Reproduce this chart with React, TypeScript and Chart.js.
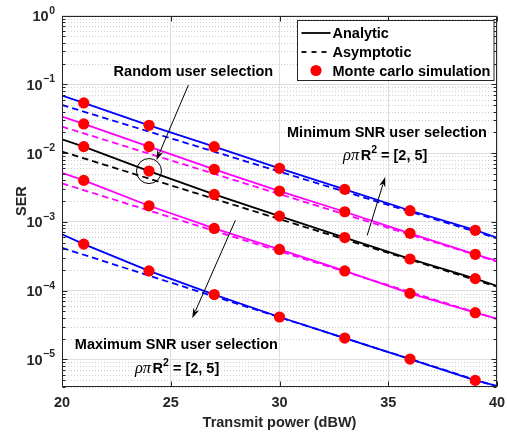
import React, { useEffect, useRef } from "react";
import { Chart, registerables } from "chart.js";

Chart.register(...registerables);

// ---------- data ----------
const analyticPower = [20, 21, 24, 27, 30, 33, 36, 39, 40];
const simPower = [21, 24, 27, 30, 33, 36, 39];
const asymPower = [20, 40];

// Minimum SNR user selection (upper pair)
const minBlueAnalytic = [0.0684, 0.0535, 0.0253, 0.0124, 0.006, 0.00296, 0.00146, 7.55e-4, 5.87e-4];
const minBlueSim = [0.0535, 0.0253, 0.01236, 0.006, 0.00296, 0.00145, 7.52e-4];
const minBlueAsym = [0.05, 5.75e-4];

const minMagentaAnalytic = [0.0338, 0.0265, 0.0124, 0.0058, 0.0028, 0.0014, 6.8e-4, 3.37e-4, 2.69e-4];
const minMagentaSim = [0.0265, 0.0124, 0.0058, 0.0028, 0.0014, 6.8e-4, 3.37e-4];
const minMagentaAsym = [0.0242, 2.64e-4];

// Random user selection
const randomAnalytic = [0.0158, 0.0124, 0.00547, 0.0025, 0.00121, 5.9e-4, 2.88e-4, 1.49e-4, 1.17e-4];
const randomSim = [0.0124, 0.00547, 0.0025, 0.00121, 5.9e-4, 2.88e-4, 1.49e-4];
const randomAsym = [0.0105, 1.14e-4];

// Maximum SNR user selection (lower pair)
const maxMagentaAnalytic = [0.00517, 0.004, 0.00171, 8.0e-4, 3.96e-4, 1.93e-4, 9.1e-5, 4.77e-5, 3.9e-5];
const maxMagentaSim = [0.004, 0.00171, 8.0e-4, 3.96e-4, 1.93e-4, 9.1e-5, 4.77e-5];
const maxMagentaAsym = [0.00362, 3.85e-5];

const maxBlueAnalytic = [6.6e-4, 4.73e-4, 1.93e-4, 8.75e-5, 4.13e-5, 2.04e-5, 1.01e-5, 4.94e-6, 4.1e-6];
const maxBlueSim = [4.73e-4, 1.93e-4, 8.75e-5, 4.13e-5, 2.04e-5, 1.01e-5, 4.94e-6];
const maxBlueAsym = [4.18e-4, 4.0e-6];

const xTickValues = [20, 25, 30, 35, 40];
const yTickExponents = [0, -1, -2, -3, -4, -5];

const legendLabels = ["Analytic", "Asymptotic", "Monte carlo simulation"];
const randomLabel = "Random user selection";
const minLabel = "Minimum SNR user selection";
const maxLabel = "Maximum SNR user selection";
const xTitle = "Transmit power (dBW)";
const yTitle = "SER";

// annotation anchors in data coordinates [power, SER]
const randomTextAt = [26.04, 0.157];
const randomArrow = [[25.81, 0.0972], [24.34, 0.00785]];
const circleAt = [24, 0.00547];
const minTextAt = [34.94, 0.0203];
const minRhoAt = [34.86, 0.00929];
const minArrow = [[34.03, 6.34e-4], [34.86, 0.00449]];
const maxTextAt = [25.26, 1.68e-5];
const maxRhoAt = [25.29, 7.57e-6];
const maxArrow = [[27.97, 1.05e-3], [25.99, 3.96e-5]];

// ---------- styles ----------
const SANS = '"Liberation Sans", Arial, Helvetica, sans-serif';
const SERIF = '"Liberation Serif", "Times New Roman", serif';
const FS = 14.5;
const AXIS = "#262626";
const BLUE = "#0000ff";
const MAGENTA = "#ff00ff";
const BLACK = "#000000";
const RED = "#ff0000";
const LW = 1.8;

const pts = (xs: number[], ys: number[]) => xs.map((x, i) => ({ x, y: ys[i] }));

function solid(color: string, ys: number[]) {
  return {
    data: pts(analyticPower, ys),
    borderColor: color,
    backgroundColor: color,
    borderWidth: LW,
    pointRadius: 0,
    tension: 0,
    order: 3,
  };
}
function dashed(color: string, ys: number[]) {
  return {
    data: pts(asymPower, ys),
    borderColor: color,
    backgroundColor: color,
    borderWidth: LW,
    borderDash: [6.5, 4],
    pointRadius: 0,
    tension: 0,
    order: 2,
  };
}
function dots(ys: number[]) {
  return {
    data: pts(simPower, ys),
    showLine: false,
    borderColor: RED,
    backgroundColor: RED,
    borderWidth: 0,
    pointRadius: 5.6,
    pointHoverRadius: 5.6,
    order: 1,
  };
}

function drawArrow(ctx: CanvasRenderingContext2D, x0: number, y0: number, x1: number, y1: number) {
  const ang = Math.atan2(y1 - y0, x1 - x0);
  const len = 10;
  const hw = 3.2;
  const bx = x1 - len * Math.cos(ang);
  const by = y1 - len * Math.sin(ang);
  ctx.beginPath();
  ctx.moveTo(x0, y0);
  ctx.lineTo(bx + 2 * Math.cos(ang), by + 2 * Math.sin(ang));
  ctx.stroke();
  const nx = -Math.sin(ang);
  const ny = Math.cos(ang);
  ctx.beginPath();
  ctx.moveTo(x1, y1);
  ctx.lineTo(bx + nx * hw, by + ny * hw);
  ctx.lineTo(bx + 3 * Math.cos(ang), by + 3 * Math.sin(ang));
  ctx.lineTo(bx - nx * hw, by - ny * hw);
  ctx.closePath();
  ctx.fill();
}

function drawRho(ctx: CanvasRenderingContext2D, cx: number, baseline: number) {
  const parts = [
    { t: "ρπ", f: `italic 16.5px ${SERIF}`, dy: 0 },
    { t: "R", f: `bold ${FS}px ${SANS}`, dy: 0 },
    { t: "2", f: `bold 10.5px ${SANS}`, dy: -7 },
    { t: " = [2, 5]", f: `bold ${FS}px ${SANS}`, dy: 0 },
  ];
  let total = 0;
  const widths = parts.map((p) => {
    ctx.font = p.f;
    const w = ctx.measureText(p.t).width + (p.t === "ρπ" ? 1.5 : 0);
    total += w;
    return w;
  });
  let x = cx - total / 2;
  ctx.textAlign = "left";
  ctx.textBaseline = "alphabetic";
  parts.forEach((p, i) => {
    ctx.font = p.f;
    ctx.fillText(p.t, x, baseline + p.dy);
    x += widths[i];
  });
}

const decorPlugin = {
  id: "decor",
  beforeDatasetsDraw(chart: any) {
    const { ctx, chartArea: a, scales } = chart;
    const y = scales.y;
    ctx.save();
    ctx.strokeStyle = "#cfcfcf";
    ctx.lineWidth = 1;
    ctx.setLineDash([1, 2]);
    for (let e = -6; e < 0; e++) {
      for (let m = 2; m <= 9; m++) {
        const v = m * Math.pow(10, e);
        if (v < y.min || v > y.max) continue;
        const py = Math.round(y.getPixelForValue(v)) + 0.5;
        ctx.beginPath();
        ctx.moveTo(a.left, py);
        ctx.lineTo(a.right, py);
        ctx.stroke();
      }
    }
    ctx.restore();
  },
  afterDatasetsDraw(chart: any) {
    const { ctx, scales } = chart;
    const x = scales.x;
    const y = scales.y;
    const P = (p: number[]) => [x.getPixelForValue(p[0]), y.getPixelForValue(p[1])];
    ctx.save();
    ctx.fillStyle = BLACK;
    ctx.strokeStyle = BLACK;
    ctx.lineWidth = 1;
    ctx.setLineDash([]);

    // circle around the random-selection point
    const c = P(circleAt);
    ctx.beginPath();
    ctx.arc(c[0], c[1], 12.5, 0, Math.PI * 2);
    ctx.stroke();

    // arrows
    for (const ar of [randomArrow, minArrow, maxArrow]) {
      const s = P(ar[0]);
      const e = P(ar[1]);
      drawArrow(ctx, s[0], s[1], e[0], e[1]);
    }

    // labels
    ctx.font = `bold ${FS}px ${SANS}`;
    ctx.textAlign = "center";
    ctx.textBaseline = "alphabetic";
    const r = P(randomTextAt);
    ctx.fillText(randomLabel, r[0], r[1] + 5);
    const mn = P(minTextAt);
    ctx.fillText(minLabel, mn[0], mn[1] + 5);
    const mx = P(maxTextAt);
    ctx.fillText(maxLabel, mx[0], mx[1] + 5);
    const mr = P(minRhoAt);
    drawRho(ctx, mr[0], mr[1] + 5);
    const xr = P(maxRhoAt);
    drawRho(ctx, xr[0], xr[1] + 5);
    ctx.restore();
  },
  afterDraw(chart: any) {
    const { ctx, chartArea: a, scales } = chart;
    const x = scales.x;
    const y = scales.y;
    ctx.save();
    ctx.setLineDash([]);
    ctx.strokeStyle = AXIS;
    ctx.fillStyle = AXIS;
    ctx.lineWidth = 1;
    const L = Math.round(a.left) + 0.5;
    const R = Math.round(a.right) - 0.5;
    const T = Math.round(a.top) + 0.5;
    const B = Math.round(a.bottom) - 0.5;

    // box
    ctx.beginPath();
    ctx.rect(L, T, R - L, B - T);
    ctx.stroke();

    // y ticks (major + minor) on both sides
    ctx.beginPath();
    for (let e = -6; e <= 0; e++) {
      for (let m = 1; m <= 9; m++) {
        const v = m * Math.pow(10, e);
        if (v < y.min || v > y.max) continue;
        const len = m === 1 ? 5 : 3;
        const py = Math.round(y.getPixelForValue(v)) + 0.5;
        ctx.moveTo(L, py);
        ctx.lineTo(L + len, py);
        ctx.moveTo(R, py);
        ctx.lineTo(R - len, py);
      }
    }
    // x ticks bottom and top
    for (const v of xTickValues) {
      const px = Math.round(x.getPixelForValue(v)) + 0.5;
      ctx.moveTo(px, B);
      ctx.lineTo(px, B - 5);
      ctx.moveTo(px, T);
      ctx.lineTo(px, T + 5);
    }
    ctx.stroke();

    // y tick labels: 10^e
    const right = a.left - 7;
    for (const e of yTickExponents) {
      const py = y.getPixelForValue(Math.pow(10, e));
      const ex = e < 0 ? "\u2212" + String(-e) : String(e);
      ctx.font = `bold 10.5px ${SANS}`;
      const ew = ctx.measureText(ex).width;
      ctx.textAlign = "left";
      ctx.textBaseline = "alphabetic";
      ctx.fillText(ex, right - ew, py - 2);
      ctx.font = `bold ${FS}px ${SANS}`;
      ctx.textAlign = "right";
      ctx.fillText("10", right - ew - 0.5, py + 5.5);
    }

    // x tick labels
    ctx.font = `bold ${FS}px ${SANS}`;
    ctx.textAlign = "center";
    ctx.textBaseline = "alphabetic";
    for (const v of xTickValues) {
      ctx.fillText(String(v), x.getPixelForValue(v), a.bottom + 20);
    }
    // axis titles
    ctx.fillText(xTitle, (a.left + a.right) / 2, a.bottom + 40);
    ctx.save();
    ctx.translate(25.5, (a.top + a.bottom) / 2);
    ctx.rotate(-Math.PI / 2);
    ctx.fillText(yTitle, 0, 0);
    ctx.restore();

    // legend
    const lx = 297.5;
    const ly = 20.5;
    const lw = 196.5;
    const lh = 60;
    ctx.fillStyle = "#ffffff";
    ctx.fillRect(lx, ly, lw, lh);
    ctx.strokeStyle = AXIS;
    ctx.lineWidth = 1;
    ctx.strokeRect(lx, ly, lw, lh);
    const rows = [ly + 12.5, ly + 31.5, ly + 50];
    ctx.strokeStyle = BLACK;
    ctx.lineWidth = LW;
    ctx.beginPath();
    ctx.moveTo(lx + 4, rows[0]);
    ctx.lineTo(lx + 33, rows[0]);
    ctx.stroke();
    ctx.setLineDash([5, 5]);
    ctx.beginPath();
    ctx.moveTo(lx + 4, rows[1]);
    ctx.lineTo(lx + 33, rows[1]);
    ctx.stroke();
    ctx.setLineDash([]);
    ctx.fillStyle = RED;
    ctx.beginPath();
    ctx.arc(lx + 18.5, rows[2], 5.6, 0, Math.PI * 2);
    ctx.fill();
    ctx.fillStyle = BLACK;
    ctx.font = `bold ${FS}px ${SANS}`;
    ctx.textAlign = "left";
    ctx.textBaseline = "alphabetic";
    legendLabels.forEach((t, i) => {
      ctx.fillText(t, lx + 35, rows[i] + 5);
    });
    ctx.restore();
  },
};

export default function App() {
  const ref = useRef<HTMLCanvasElement | null>(null);

  useEffect(() => {
    document.body.style.margin = "0";
    const canvas = ref.current;
    if (!canvas) return;
    const chart = new Chart(canvas, {
      type: "line",
      data: {
        datasets: [
          dots(minBlueSim),
          dots(minMagentaSim),
          dots(randomSim),
          dots(maxMagentaSim),
          dots(maxBlueSim),
          dashed(BLUE, minBlueAsym),
          dashed(MAGENTA, minMagentaAsym),
          dashed(BLACK, randomAsym),
          dashed(MAGENTA, maxMagentaAsym),
          dashed(BLUE, maxBlueAsym),
          solid(BLUE, minBlueAnalytic),
          solid(MAGENTA, minMagentaAnalytic),
          solid(BLACK, randomAnalytic),
          solid(MAGENTA, maxMagentaAnalytic),
          solid(BLUE, maxBlueAnalytic),
        ] as any,
      },
      options: {
        animation: false,
        responsive: false,
        devicePixelRatio: 1,
        events: [],
        layout: { padding: { left: 62, top: 15.5, right: 10, bottom: 45.3 } },
        plugins: { legend: { display: false }, tooltip: { enabled: false } },
        scales: {
          x: {
            type: "linear",
            min: 20,
            max: 40,
            afterBuildTicks: (s: any) => {
              s.ticks = xTickValues.map((v) => ({ value: v }));
            },
            ticks: { display: false },
            grid: { color: "#dedede", lineWidth: 1, drawTicks: false },
            border: { display: false },
          },
          y: {
            type: "logarithmic",
            min: 4e-6,
            max: 1,
            afterBuildTicks: (s: any) => {
              s.ticks = yTickExponents.map((e) => ({ value: Math.pow(10, e) }));
            },
            ticks: { display: false },
            grid: { color: "#dedede", lineWidth: 1, drawTicks: false },
            border: { display: false },
          },
        },
      } as any,
      plugins: [decorPlugin],
    });
    return () => chart.destroy();
  }, []);

  return (
    <div style={{ width: 507, height: 432, background: "#ffffff" }}>
      <canvas ref={ref} width={507} height={432} style={{ display: "block" }} />
    </div>
  );
}
